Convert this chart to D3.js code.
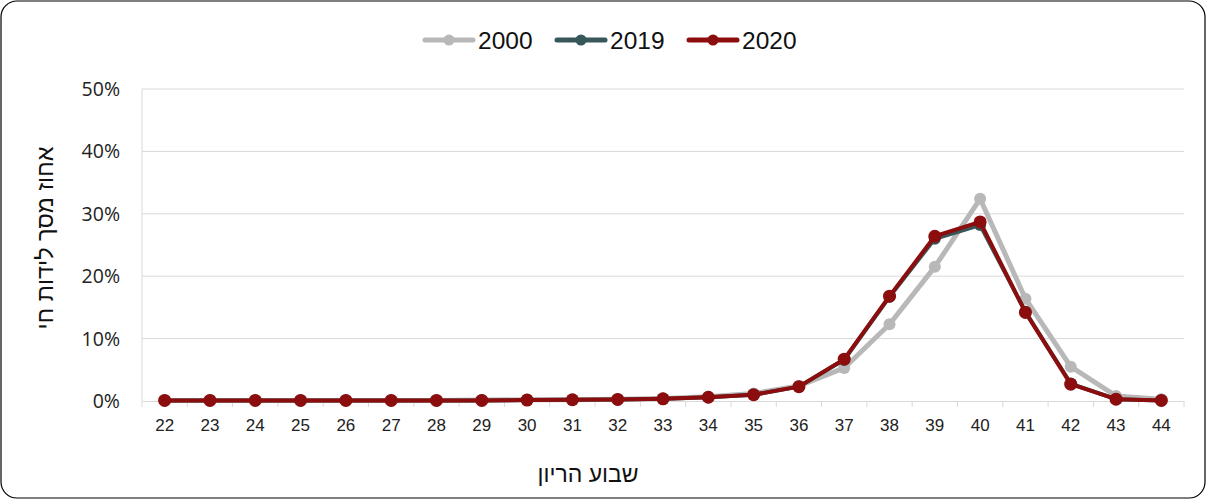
<!DOCTYPE html>
<html>
<head>
<meta charset="utf-8">
<script src="https://cdn.jsdelivr.net/npm/d3@7"></script>
<style>
  body { margin: 0; background: #fff; }
  svg text { font-family: "Liberation Sans", Arial, sans-serif; }
</style>
</head>
<body>
<div id="chart"></div>
<script>
var weeks = [22, 23, 24, 25, 26, 27, 28, 29, 30, 31, 32, 33, 34, 35, 36, 37, 38, 39, 40, 41, 42, 43, 44];
var v2000 = [0.1, 0.1, 0.1, 0.1, 0.1, 0.1, 0.1, 0.15, 0.2, 0.2, 0.3, 0.4, 0.7, 1.2, 2.4, 5.3, 12.3, 21.5, 32.4, 16.4, 5.5, 0.8, 0.3];
var v2019 = [0.1, 0.1, 0.1, 0.1, 0.1, 0.1, 0.1, 0.1, 0.15, 0.2, 0.25, 0.35, 0.6, 1.0, 2.3, 6.6, 16.7, 26.0, 28.2, 14.3, 2.8, 0.3, 0.1];
var v2020 = [0.1, 0.1, 0.1, 0.1, 0.1, 0.1, 0.1, 0.1, 0.15, 0.2, 0.25, 0.35, 0.6, 1.0, 2.3, 6.7, 16.8, 26.4, 28.7, 14.2, 2.7, 0.3, 0.1];
var yTicks = [0, 10, 20, 30, 40, 50];
var series = [
    { name: "2000", values: v2000, color: "#b8b8b8", width: 5, r: 6 },
    { name: "2019", values: v2019, color: "#37575a", width: 4, r: 6 },
    { name: "2020", values: v2020, color: "#8b0d0d", width: 4, r: 6.5 }
];

var w = 1206, h = 499;
var svg = d3.select("#chart").append("svg").attr("width", w).attr("height", h);

svg.append("rect")
    .attr("x", 1).attr("y", 1).attr("width", w - 2).attr("height", h - 2)
    .attr("rx", 16).attr("ry", 16)
    .attr("fill", "#fff").attr("stroke", "#000").attr("stroke-width", 1.2);

var x = d3.scaleBand().domain(weeks).range([142, 1184]);
var y = d3.scaleLinear().domain([0, 50]).range([401, 89]);

// gridlines
svg.selectAll(".grid")
    .data(yTicks.slice(1))
    .enter().append("line")
    .attr("x1", 142).attr("x2", 1184)
    .attr("y1", function (d) { return y(d); })
    .attr("y2", function (d) { return y(d); })
    .attr("stroke", "#d9d9d9").attr("stroke-width", 1);

// y axis line
svg.append("line").attr("x1", 142).attr("x2", 142).attr("y1", 89).attr("y2", 401)
    .attr("stroke", "#d9d9d9");

// y tick labels
svg.selectAll(".ytick")
    .data(yTicks)
    .enter().append("text")
    .attr("x", 120)
    .attr("y", function (d) { return y(d) + 7; })
    .attr("text-anchor", "end")
    .attr("font-size", 19.5)
    .attr("fill", "#222")
    .style("font-family", "'Open Sans', sans-serif")
    .text(function (d) { return d + "%"; });

// x axis
var xAxis = svg.append("g")
    .attr("transform", "translate(0,401)")
    .call(d3.axisBottom(x).tickSize(0).tickPadding(18));
xAxis.select(".domain").attr("stroke", "#d9d9d9");
xAxis.selectAll("text").attr("font-size", 17).attr("fill", "#222")
    .style("font-family", "'Liberation Sans', Arial, sans-serif");

var bounds = weeks.map(function (d) { return x(d); }).concat([x(weeks[weeks.length - 1]) + x.bandwidth()]);
svg.selectAll(".xtick")
    .data(bounds)
    .enter().append("line")
    .attr("x1", function (d) { return d; }).attr("x2", function (d) { return d; })
    .attr("y1", 401).attr("y2", 407)
    .attr("stroke", "#d9d9d9");

// lines
var line = d3.line()
    .x(function (d, i) { return x(weeks[i]) + x.bandwidth() / 2; })
    .y(function (d) { return y(d); });

series.forEach(function (s) {
    var g = svg.append("g");
    g.append("path")
        .datum(s.values)
        .attr("d", line)
        .attr("fill", "none")
        .attr("stroke", s.color)
        .attr("stroke-width", s.width)
        .attr("stroke-linejoin", "round");
    g.selectAll("circle")
        .data(s.values)
        .enter().append("circle")
        .attr("cx", function (d, i) { return x(weeks[i]) + x.bandwidth() / 2; })
        .attr("cy", function (d) { return y(d); })
        .attr("r", s.r)
        .attr("fill", s.color);
});

// legend
var legX = [425, 557, 689];
series.forEach(function (s, i) {
    var lg = svg.append("g").attr("transform", "translate(" + legX[i] + ",40)");
    lg.append("line").attr("x1", 0).attr("x2", 48).attr("y1", 0).attr("y2", 0)
        .attr("stroke", s.color).attr("stroke-width", 5).attr("stroke-linecap", "round");
    lg.append("circle").attr("cx", 24).attr("cy", 0).attr("r", 5.5).attr("fill", s.color);
    lg.append("text").attr("x", 53).attr("y", 8.5)
        .attr("font-size", 24.5).attr("fill", "#111").text(s.name);
});

// axis titles
svg.append("text")
    .attr("transform", "translate(53,238) rotate(-90)")
    .attr("text-anchor", "middle")
    .attr("font-size", 23.5)
    .attr("fill", "#111")
    .text("אחוז מסך לידות חי");

svg.append("text")
    .attr("x", 588).attr("y", 482)
    .attr("text-anchor", "middle")
    .attr("font-size", 23)
    .attr("fill", "#111")
    .text("שבוע הריון");
</script>
</body>
</html>
